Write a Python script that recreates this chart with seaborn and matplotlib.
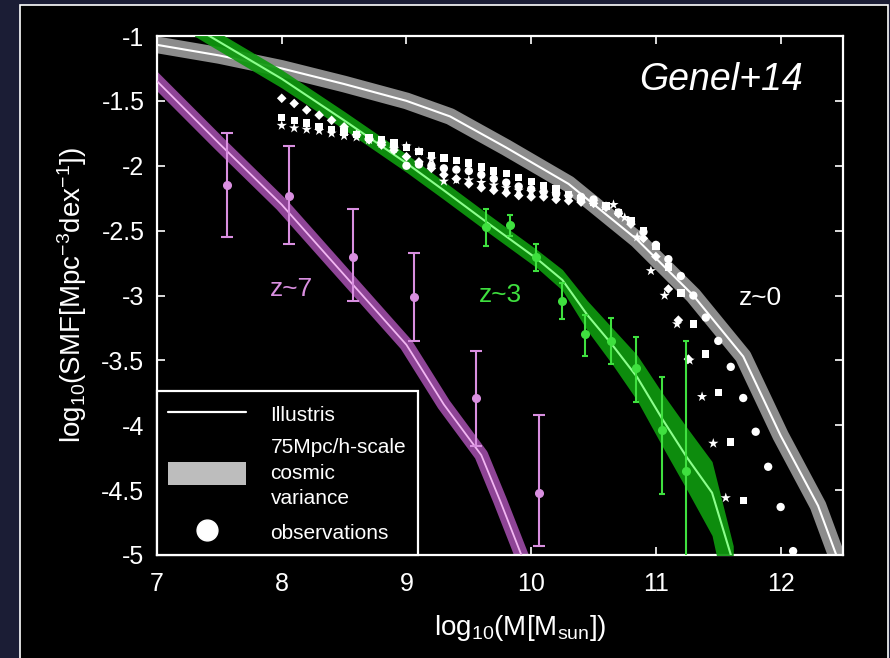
import numpy as np
import pandas as pd
import matplotlib
matplotlib.use('Agg')
import matplotlib.pyplot as plt
from matplotlib.lines import Line2D
from matplotlib.patches import Patch, Rectangle
import seaborn as sns

sns.set_theme(style='dark')
plt.rcParams['font.family'] = ['Liberation Sans', 'DejaVu Sans']
plt.rcParams['mathtext.fontset'] = 'custom'
plt.rcParams['mathtext.rm'] = 'Liberation Sans'
plt.rcParams['mathtext.it'] = 'Liberation Sans:italic'

# Illustris SMF, z~0 (grey band + white line)
z0_x = [6.95, 7.5, 8.0, 8.5, 9.0, 9.35, 9.8, 10.3, 10.85, 11.3, 11.7, 12.0, 12.3, 12.55]
z0_y = [-1.06, -1.15, -1.25, -1.37, -1.50, -1.62, -1.86, -2.14, -2.57, -3.00, -3.47, -4.08, -4.62, -5.27]

# Illustris SMF, z~3 (green band, widening at high mass)
z3_x = [7.30, 7.42, 8.0, 8.5, 9.0, 9.3, 9.65, 10.05, 10.25, 10.45, 10.65, 10.85, 11.05, 11.25, 11.45, 11.62]
z3_y = [-0.93, -1.00, -1.33, -1.65, -1.98, -2.19, -2.44, -2.72, -2.88, -3.15, -3.38, -3.63, -3.95, -4.25, -4.52, -5.06]
z3_lo = [-1.00, -1.07, -1.40, -1.72, -2.05, -2.26, -2.51, -2.79, -2.96, -3.27, -3.53, -3.81, -4.16, -4.50, -4.85, -5.60]
z3_hi = [-0.86, -0.93, -1.26, -1.58, -1.91, -2.12, -2.37, -2.65, -2.80, -3.04, -3.25, -3.46, -3.75, -4.02, -4.28, -4.93]

# Illustris SMF, z~7 (purple band)
z7_x = [6.95, 7.5, 8.0, 8.5, 9.0, 9.3, 9.6, 9.75, 9.95]
z7_y = [-1.30, -1.83, -2.30, -2.84, -3.38, -3.84, -4.23, -4.58, -5.07]

# observations z~3
obs3_x = [9.64, 9.83, 10.04, 10.25, 10.43, 10.64, 10.84, 11.05, 11.24]
obs3_y = [-2.47, -2.46, -2.70, -3.04, -3.30, -3.35, -3.56, -4.04, -4.35]
obs3_hi = [-2.33, -2.38, -2.60, -2.90, -3.15, -3.17, -3.32, -3.63, -3.35]
obs3_lo = [-2.62, -2.54, -2.81, -3.18, -3.47, -3.53, -3.82, -4.53, -5.50]

# observations z~7
obs7_x = [7.56, 8.06, 8.57, 9.06, 9.56, 10.06]
obs7_y = [-2.15, -2.23, -2.70, -3.01, -3.79, -4.52]
obs7_hi = [-1.75, -1.85, -2.33, -2.67, -3.43, -3.92]
obs7_lo = [-2.55, -2.60, -3.04, -3.35, -4.16, -4.93]

# observations z~0 (four surveys, different symbols)
circ_x = [8.7, 8.8, 8.9, 9.0, 9.1, 9.2, 9.3, 9.4, 9.5, 9.6, 9.7, 9.8, 9.9, 10.0, 10.1, 10.2, 10.3, 10.4,
          10.5, 10.6, 10.7, 10.8, 10.9, 11.0, 11.1, 11.2, 11.3, 11.4, 11.5, 11.6, 11.7, 11.8, 11.9, 12.0, 12.1]
circ_y = [-1.79, -1.82, -1.85, -2.00, -1.99, -2.00, -2.02, -2.03, -2.04, -2.07, -2.10, -2.13, -2.16, -2.18,
          -2.20, -2.22, -2.23, -2.24, -2.26, -2.31, -2.36, -2.43, -2.51, -2.61, -2.72, -2.85, -3.00, -3.17,
          -3.35, -3.55, -3.79, -4.05, -4.32, -4.63, -4.97]
sq_x = [8.0, 8.1, 8.2, 8.3, 8.4, 8.5, 8.6, 8.7, 8.8, 8.9, 9.0, 9.1, 9.2, 9.3, 9.4, 9.5, 9.6, 9.7, 9.8,
        9.9, 10.0, 10.1, 10.2, 10.3, 10.4, 10.5, 10.6, 10.7, 10.8, 10.9, 11.0, 11.1, 11.2, 11.3, 11.4,
        11.5, 11.6, 11.7]
sq_y = [-1.63, -1.65, -1.67, -1.70, -1.72, -1.74, -1.76, -1.78, -1.80, -1.82, -1.86, -1.89, -1.92, -1.94,
        -1.96, -1.98, -2.01, -2.04, -2.06, -2.09, -2.12, -2.15, -2.18, -2.22, -2.25, -2.28, -2.31, -2.36,
        -2.42, -2.50, -2.62, -2.78, -2.98, -3.22, -3.45, -3.75, -4.13, -4.58]
star_x = [8.0, 8.1, 8.2, 8.3, 8.4, 8.5, 8.6, 8.7, 8.8, 8.9, 9.0, 9.1, 9.2, 9.3, 9.4, 9.5, 9.6, 9.7, 9.8,
          9.9, 10.0, 10.1, 10.2, 10.3, 10.4, 10.5, 10.66, 10.75, 10.85, 10.96, 11.07, 11.17, 11.27, 11.37,
          11.46, 11.56]
star_y = [-1.69, -1.71, -1.72, -1.73, -1.75, -1.77, -1.78, -1.80, -1.83, -1.87, -1.85, -1.89, -1.95, -2.12,
          -2.11, -2.11, -2.13, -2.15, -2.17, -2.19, -2.20, -2.21, -2.22, -2.24, -2.26, -2.28, -2.30, -2.40,
          -2.55, -2.81, -3.00, -3.22, -3.50, -3.78, -4.14, -4.56]
dia_x = [8.0, 8.1, 8.2, 8.3, 8.4, 8.5, 8.6, 8.7, 8.8, 8.9, 9.0, 9.1, 9.2, 9.3, 9.4, 9.5, 9.6, 9.7, 9.8,
         9.9, 10.0, 10.1, 10.2, 10.3, 10.4, 10.5, 10.6, 10.7, 10.8, 10.9, 11.0, 11.1, 11.18, 11.26]
dia_y = [-1.48, -1.52, -1.57, -1.61, -1.65, -1.70, -1.76, -1.80, -1.84, -1.88, -1.93, -1.97, -2.02, -2.07,
         -2.10, -2.14, -2.17, -2.19, -2.21, -2.23, -2.24, -2.24, -2.26, -2.27, -2.28, -2.29, -2.32, -2.37,
         -2.45, -2.56, -2.70, -2.95, -3.19, -3.49]

xticks = [7, 8, 9, 10, 11, 12]
yticks = [-5, -4.5, -4, -3.5, -3, -2.5, -2, -1.5, -1]
ytick_labels = ['-5', '-4.5', '-4', '-3.5', '-3', '-2.5', '-2', '-1.5', '-1']

fig = plt.figure(figsize=(8.9, 6.58), dpi=100, facecolor='#1b1d35')
fig.add_artist(Rectangle((20 / 890, -0.01), 868 / 890, 1 - 5 / 658 + 0.01, transform=fig.transFigure,
                         facecolor='black', edgecolor='white', lw=1.2, zorder=0))
ax = fig.add_axes([157 / 890, 1 - 555 / 658, 686 / 890, 519 / 658])
ax.set_facecolor('black')
ax.grid(False)

# bands
sns.lineplot(x=z0_x, y=z0_y, estimator=None, sort=False, color='#8c8c8c', lw=12,
             solid_joinstyle='round', ax=ax, zorder=2)
sns.lineplot(x=z0_x, y=z0_y, estimator=None, sort=False, color='white', lw=1.5, ax=ax, zorder=3)

sns.lineplot(x=z7_x, y=z7_y, estimator=None, sort=False, color='#8e4496', lw=10,
             solid_joinstyle='round', ax=ax, zorder=2)
sns.lineplot(x=z7_x, y=z7_y, estimator=None, sort=False, color='#f2b6f2', lw=1.3, ax=ax, zorder=3)

ax.fill_between(z3_x, z3_lo, z3_hi, color='#0f980f', lw=0, alpha=0.93, zorder=4)
sns.lineplot(x=z3_x, y=z3_y, estimator=None, sort=False, color='#8cff8c', lw=1.5, ax=ax, zorder=5)

# z~0 observations
sns.scatterplot(x=dia_x, y=dia_y, marker='D', s=24, color='white', edgecolor='none', ax=ax, zorder=6)
sns.scatterplot(x=sq_x, y=sq_y, marker='s', s=28, color='white', edgecolor='none', ax=ax, zorder=6)
sns.scatterplot(x=star_x, y=star_y, marker='*', s=60, color='white', edgecolor='none', ax=ax, zorder=6)
sns.scatterplot(x=circ_x, y=circ_y, marker='o', s=36, color='white', edgecolor='none', ax=ax, zorder=6)

# high-z observations with error bars
o7y = np.array(obs7_y)
ax.errorbar(obs7_x, obs7_y, yerr=[o7y - np.array(obs7_lo), np.array(obs7_hi) - o7y], fmt='o',
            color='#d98fe0', ms=5.5, elinewidth=1.5, capsize=4, capthick=1.5, zorder=7)
o3y = np.array(obs3_y)
ax.errorbar(obs3_x, obs3_y, yerr=[o3y - np.array(obs3_lo), np.array(obs3_hi) - o3y], fmt='o',
            color='#3fe03f', ms=5.5, elinewidth=1.5, capsize=2, capthick=1.5, zorder=7)

ax.text(8.08, -2.95, 'z~7', color='#d98fe0', fontsize=19, ha='center', va='center')
ax.text(9.75, -3.00, 'z~3', color='#3fe03f', fontsize=19, ha='center', va='center')
ax.text(11.84, -3.02, 'z~0', color='white', fontsize=19, ha='center', va='center')
ax.text(11.52, -1.34, 'Genel+14', color='white', fontsize=27, style='italic', ha='center', va='center')

ax.set_xlim(7, 12.5)
ax.set_ylim(-5, -1)
ax.set_xticks(xticks, [str(t) for t in xticks])
ax.set_yticks(yticks, ytick_labels)
ax.tick_params(direction='in', length=6, width=1.2, colors='white', labelsize=18,
               top=True, right=True, bottom=True, left=True, pad=9)
ax.tick_params(axis='x', pad=12)
for s in ax.spines.values():
    s.set_color('white')
    s.set_linewidth(1.6)

ax.set_xlabel(r'log$_{10}$(M[M$_{\rm sun}$])', color='white', fontsize=20, va='center')
ax.xaxis.set_label_coords(0.53, -0.14)
ax.set_ylabel(r'log$_{10}$(SMF[Mpc$^{-3}$dex$^{-1}$])', color='white', fontsize=20, labelpad=9)

handles = [Line2D([], [], color='white', lw=1.6),
           Patch(facecolor='#bdbdbd', edgecolor='none'),
           Line2D([], [], color='white', marker='o', ls='none', ms=15)]
labels = ['Illustris', '75Mpc/h-scale\ncosmic\nvariance', 'observations']
leg = ax.legend(handles, labels, loc='lower left', bbox_to_anchor=(0, 0), borderaxespad=0,
                frameon=True, facecolor='black', edgecolor='white', framealpha=1, fancybox=False,
                fontsize=15, labelcolor='white', handlelength=3.7, handleheight=1.3,
                handletextpad=1.2, borderpad=0.55, labelspacing=0.6)
for t in leg.get_texts():
    t.set_linespacing(1.45)
leg.get_frame().set_linewidth(1.6)
leg.set_zorder(10)

fig.savefig('out.png', dpi=100, facecolor=fig.get_facecolor())
